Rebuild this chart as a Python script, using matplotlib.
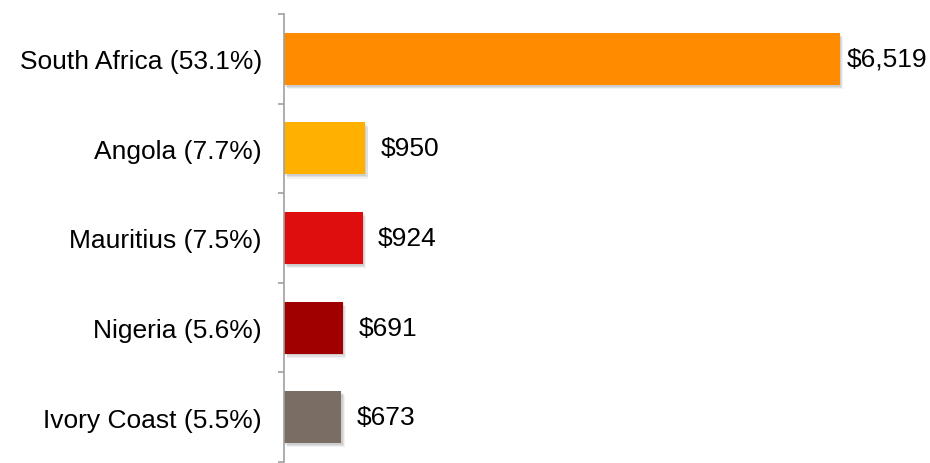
import numpy as np
import matplotlib
matplotlib.use("Agg")
import matplotlib.pyplot as plt
import matplotlib.patheffects as pe

countries = ["South Africa (53.1%)", "Angola (7.7%)", "Mauritius (7.5%)",
             "Nigeria (5.6%)", "Ivory Coast (5.5%)"]
values = [6519, 950, 924, 691, 673]
value_labels = ["$6,519", "$950", "$924", "$691", "$673"]
colors = ["#FF8C00", "#FFB000", "#DE0E0E", "#A00000", "#7A6E64"]

plt.rcParams['font.family'] = ['Liberation Sans', 'DejaVu Sans']

fig = plt.figure(figsize=(9.3, 4.64), dpi=100)
ax = fig.add_axes([284 / 930, 1 / 464, 597 / 930, 448 / 464])

y = np.arange(len(countries))
bars = ax.barh(y, values, height=0.58, color=colors)
# soft drop shadow under the bars
for b in bars:
    b.set_path_effects([pe.SimplePatchShadow(offset=(2.5, -3), shadow_rgbFace='#000000', alpha=0.05),
                        pe.SimplePatchShadow(offset=(1.8, -2.2), shadow_rgbFace='#000000', alpha=0.07),
                        pe.SimplePatchShadow(offset=(1, -1.3), shadow_rgbFace='#000000', alpha=0.08),
                        pe.Normal()])

# value labels
for i, (v, lab) in enumerate(zip(values, value_labels)):
    off = 5 if i == 0 else 11
    ax.annotate(lab, xy=(v, i), xytext=(off, 0), textcoords='offset points',
                va='center', ha='left', fontsize=19, color='#000000')

ax.set_xlim(0, 7000)
ax.set_ylim(len(countries) - 0.5, -0.5)
ax.set_yticks(y)
ax.set_yticklabels(countries, fontsize=19)
ax.tick_params(axis='y', which='major', length=0, pad=16)
ax.set_yticks(np.arange(-0.5, len(countries)), minor=True)
ax.tick_params(axis='y', which='minor', length=4.5, width=1.2, color='#A0A0A0')
ax.set_xticks([])

for s in ['top', 'right', 'bottom']:
    ax.spines[s].set_visible(False)
ax.spines['left'].set_color('#A0A0A0')
ax.spines['left'].set_linewidth(1.2)

fig.savefig("out.png", dpi=100)
